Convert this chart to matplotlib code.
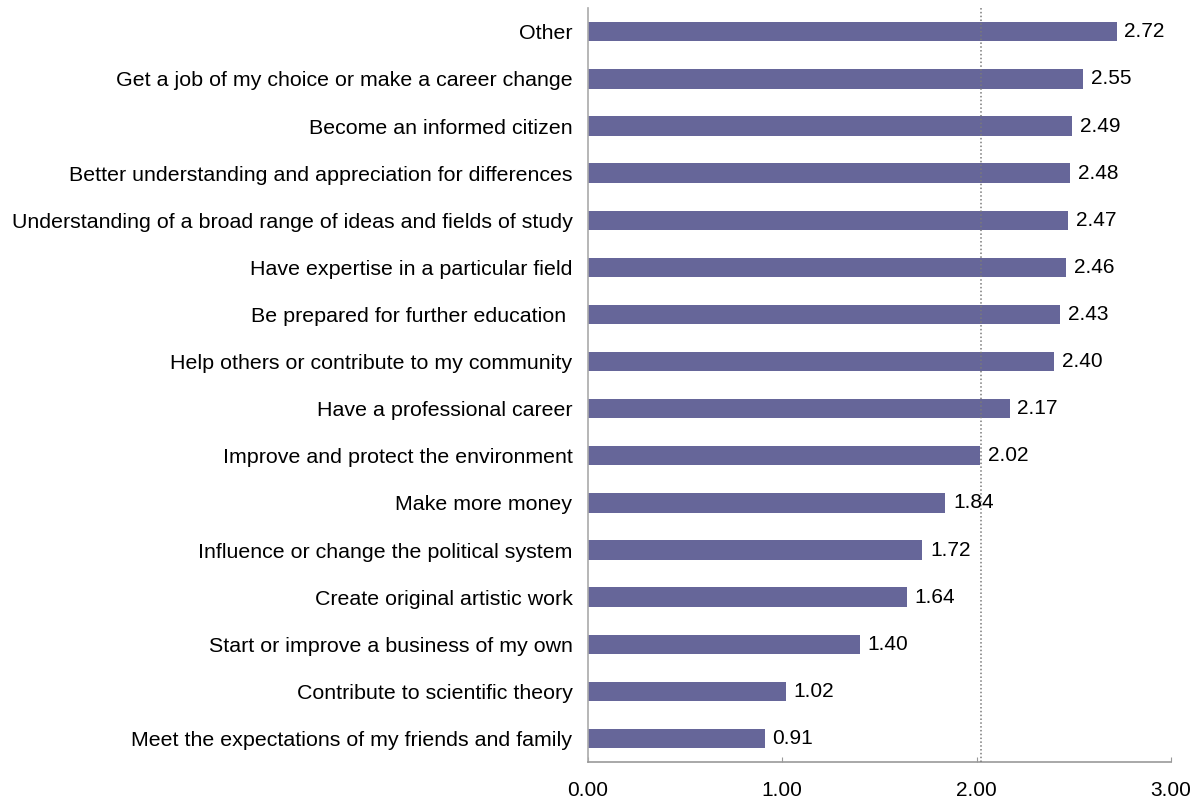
import matplotlib
matplotlib.use("Agg")
import matplotlib.pyplot as plt

plt.rcParams['font.family'] = ['Liberation Sans', 'DejaVu Sans']

# categories from top to bottom
labels = [
    "Other",
    "Get a job of my choice or make a career change",
    "Become an informed citizen",
    "Better understanding and appreciation for differences",
    "Understanding of a broad range of ideas and fields of study",
    "Have expertise in a particular field",
    "Be prepared for further education ",
    "Help others or contribute to my community",
    "Have a professional career",
    "Improve and protect the environment",
    "Make more money",
    "Influence or change the political system",
    "Create original artistic work",
    "Start or improve a business of my own",
    "Contribute to scientific theory",
    "Meet the expectations of my friends and family",
]
values = [2.72, 2.55, 2.49, 2.48, 2.47, 2.46, 2.43, 2.40,
          2.17, 2.02, 1.84, 1.72, 1.64, 1.40, 1.02, 0.91]
ref_line = 2.025
xticks = [0, 1, 2, 3]

fig = plt.figure(figsize=(12.02, 8.01), dpi=100)
ax = fig.add_axes([0.4889, 0.0487, 0.4853, 0.941])

n = len(labels)
ypos = [n - 1 - i for i in range(n)]
ax.barh(ypos, values, height=0.41, color="#666699", zorder=2)
ax.axvline(ref_line, color="#7a7a7a", linestyle=(0, (1, 1.5)), linewidth=1.1, zorder=3)

for y, v in zip(ypos, values):
    ax.text(v + 0.04, y, "%.2f" % v, va="center", ha="left", fontsize=15)

ax.set_yticks(ypos)
ax.set_yticklabels(labels, fontsize=15.4)
ax.tick_params(axis="y", length=0, pad=11)

ax.set_xlim(0, 3)
ax.set_ylim(-0.5, n - 0.5)
ax.set_xticks(xticks)
ax.set_xticklabels(["%.2f" % t for t in xticks], fontsize=15)
ax.tick_params(axis="x", direction="in", length=3.6, color="#999999", pad=14)

for s in ["top", "right"]:
    ax.spines[s].set_visible(False)
ax.spines["left"].set_color("#aaaaaa")
ax.spines["bottom"].set_color("#999999")
ax.spines["left"].set_linewidth(1.2)
ax.spines["bottom"].set_linewidth(1.2)

fig.savefig("out.png", dpi=100)
